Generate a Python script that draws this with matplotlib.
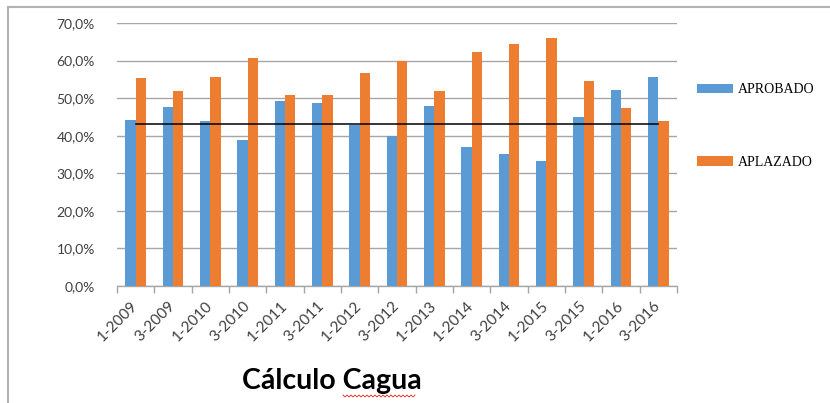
import matplotlib
matplotlib.use("Agg")
import matplotlib.pyplot as plt
from matplotlib.lines import Line2D
from matplotlib.ticker import FuncFormatter, MultipleLocator
import numpy as np

categories = ["1-2009", "3-2009", "1-2010", "3-2010", "1-2011", "3-2011", "1-2012",
              "3-2012", "1-2013", "1-2014", "3-2014", "1-2015", "3-2015", "1-2016", "3-2016"]
aprobado = [0.441, 0.477, 0.440, 0.389, 0.493, 0.487, 0.429, 0.399, 0.478, 0.370,
            0.351, 0.333, 0.450, 0.521, 0.556]
aplazado = [0.554, 0.519, 0.555, 0.607, 0.509, 0.509, 0.567, 0.599, 0.518, 0.623,
            0.643, 0.660, 0.546, 0.474, 0.439]
promedio = [0.432] * 15
title = "Cálculo Cagua"

W, H = 830, 403
fig = plt.figure(figsize=(W / 100, H / 100), dpi=100)
ax = fig.add_axes([117 / W, 1 - 286 / H, (677 - 117) / W, (286 - 23) / H])

x = np.arange(len(categories))
bw = 0.28
b1 = ax.bar(x - bw / 2, aprobado, bw, color="#5B9BD5", label="APROBADO", zorder=3)
b2 = ax.bar(x + bw / 2, aplazado, bw, color="#ED7D31", label="APLAZADO", zorder=3)
ax.plot(x, promedio, color="black", lw=1.1, zorder=4)

ax.set_xlim(-0.5, len(categories) - 0.5)
ax.set_ylim(0, 0.70)
ax.yaxis.set_major_locator(MultipleLocator(0.10))
ax.yaxis.set_major_formatter(FuncFormatter(lambda v, p: f"{v*100:.1f}%".replace(".", ",")))
ax.grid(axis="y", color="#a6a6a6", lw=1.0, zorder=0)
for s in ["left", "right", "top"]:
    ax.spines[s].set_visible(False)
ax.spines["bottom"].set_color("#a6a6a6")
ax.spines["bottom"].set_linewidth(1.0)
ax.tick_params(axis="y", length=0, pad=16, labelsize=10, labelcolor="#404040")
ax.set_yticks(np.arange(0, 0.71, 0.10))
for lab in ax.get_yticklabels():
    lab.set_fontfamily("Lato")

ax.set_xticks(x)
ax.set_xticklabels(categories, rotation=45, ha="right", va="center",
                   rotation_mode="anchor", fontsize=11, color="#404040", family="Lato")
ax.tick_params(axis="x", length=0, pad=13)
ax.set_xticks(np.arange(-0.5, len(categories), 1.0), minor=True)
ax.tick_params(axis="x", which="minor", length=5, color="#a6a6a6", width=1.0)

leg = fig.legend(handles=[b1, b2], loc="center left",
                 bbox_to_anchor=(697 / W, 1 - 126 / H), frameon=False,
                 borderpad=0, borderaxespad=0, handlelength=2.6, handleheight=0.65,
                 handletextpad=0.35, labelspacing=4.3,
                 prop={"family": "Liberation Serif", "size": 10})

fig.text(332 / W, 1 - 381 / H, title, ha="center", va="center",
         fontsize=20.5, fontweight="bold", family="Lato")

# chart border (cropped at right and bottom)
fig.add_artist(Line2D([7.5 / W, 7.5 / W], [0, 1 - 7 / H], color="#b3b3b3", lw=1.5,
                      transform=fig.transFigure))
fig.add_artist(Line2D([7.5 / W, 1], [1 - 7 / H, 1 - 7 / H], color="#b3b3b3", lw=1.5,
                      transform=fig.transFigure))

# spell-check squiggle under "Cagua"
sx = np.linspace(343, 415, 37)
sy = 396 + np.where(np.arange(37) % 2 == 0, -1.0, 1.0)
fig.add_artist(Line2D(sx / W, 1 - sy / H, color="#e02020", lw=0.6,
                      transform=fig.transFigure))

fig.savefig("out.png", dpi=100)
